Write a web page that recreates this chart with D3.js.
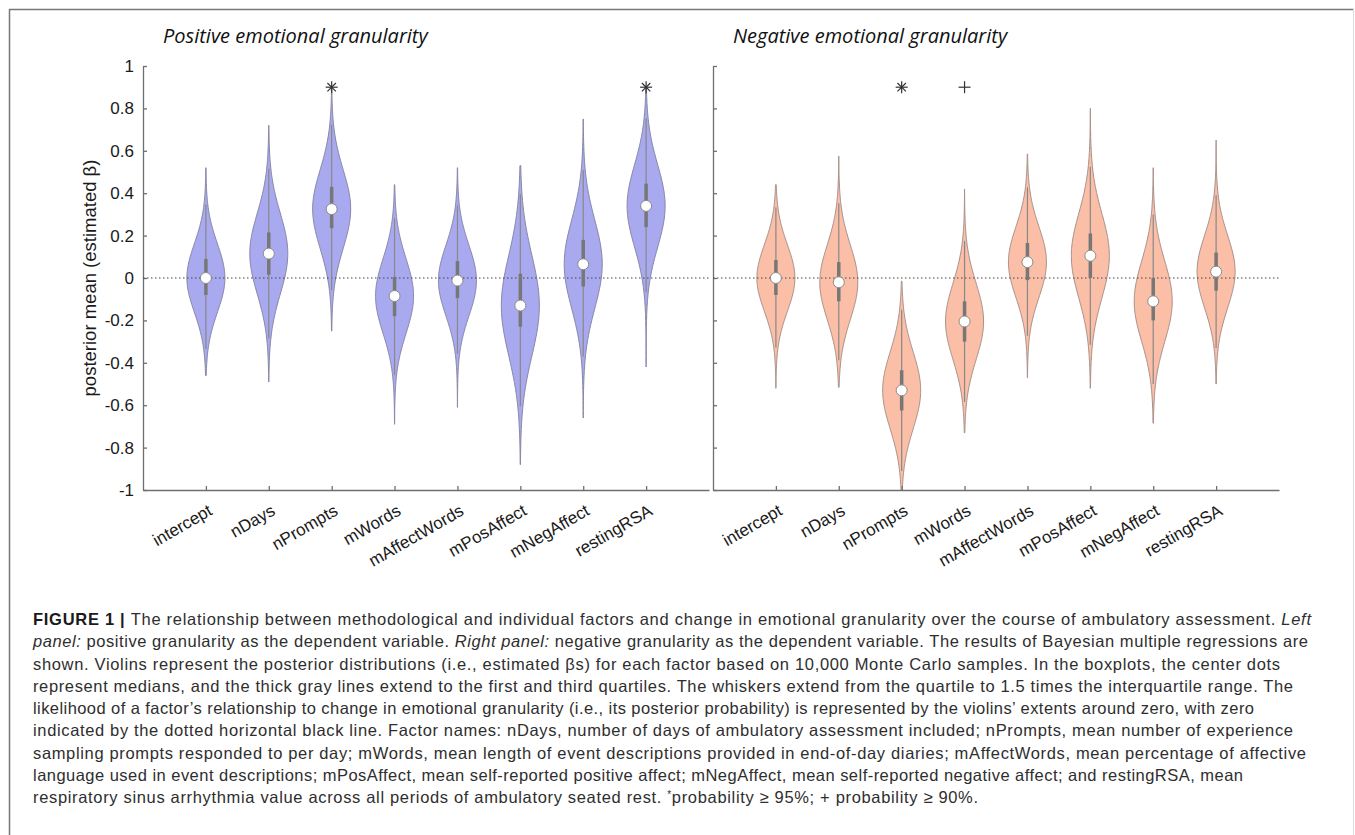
<!DOCTYPE html>
<html>
<head>
  <meta charset="utf-8">
  <title>Emotional granularity violins</title>
  <script src="https://d3js.org/d3.v7.min.js"></script>
  <style>
    body { margin: 0; background: #fff; }
    svg { display: block; }
    .axis path, .axis line { stroke: #6f6f6f; stroke-width: 1.3; }
    .axis text { font-family: "Liberation Sans", Arial, sans-serif; font-size: 17px; fill: #1a1a1a; }
    .title { font-family: "Open Sans", sans-serif; font-style: italic; font-size: 20px; fill: #111; }
    .ylabel { font-family: "Liberation Sans", Arial, sans-serif; font-size: 18.5px; fill: #1a1a1a; }
    .caption { font-family: "Liberation Sans", Arial, sans-serif; font-size: 16.5px; fill: #2e2e2e; }
  </style>
</head>
<body>

  <svg width="1355" height="835"></svg>

  <script>
    // Factor names (x categories)
    const factors = ["intercept", "nDays", "nPrompts", "mWords", "mAffectWords", "mPosAffect", "mNegAffect", "restingRSA"];
    const yTicks = [-1, -0.8, -0.6, -0.4, -0.2, 0, 0.2, 0.4, 0.6, 0.8, 1];

    // Positive emotional granularity: posterior summaries
    const posMedian = [0, 0.115, 0.325, -0.085, -0.012, -0.13, 0.065, 0.34];
    const posQ1 = [-0.08, 0.015, 0.235, -0.18, -0.095, -0.23, -0.04, 0.24];
    const posQ3 = [0.09, 0.215, 0.43, 0.005, 0.08, 0.02, 0.18, 0.445];
    const posMin = [-0.46, -0.49, -0.25, -0.69, -0.61, -0.88, -0.66, -0.42];
    const posMax = [0.52, 0.72, 0.9, 0.44, 0.52, 0.53, 0.75, 0.9];
    const posSig = ["", "", "*", "", "", "", "", "*"];

    // Negative emotional granularity
    const negMedian = [0, -0.02, -0.53, -0.205, 0.075, 0.105, -0.11, 0.03];
    const negQ1 = [-0.08, -0.11, -0.625, -0.30, -0.01, 0.0, -0.2, -0.06];
    const negQ3 = [0.085, 0.075, -0.435, -0.11, 0.165, 0.21, 0.0, 0.12];
    const negMin = [-0.52, -0.515, -1.0, -0.73, -0.47, -0.52, -0.685, -0.5];
    const negMax = [0.44, 0.575, -0.015, 0.42, 0.585, 0.80, 0.52, 0.65];
    const negSig = ["", "", "*", "+", "", "", "", ""];
    const sigLevel = 0.9;

    const captionLines = [
      [["b", "FIGURE 1 | "], ["", "The relationship between methodological and individual factors and change in emotional granularity over the course of ambulatory assessment. "], ["i", "Left"]],
      [["i", "panel:"], ["", " positive granularity as the dependent variable. "], ["i", "Right panel:"], ["", " negative granularity as the dependent variable. The results of Bayesian multiple regressions are"]],
      [["", "shown. Violins represent the posterior distributions (i.e., estimated βs) for each factor based on 10,000 Monte Carlo samples. In the boxplots, the center dots"]],
      [["", "represent medians, and the thick gray lines extend to the first and third quartiles. The whiskers extend from the quartile to 1.5 times the interquartile range. The"]],
      [["", "likelihood of a factor’s relationship to change in emotional granularity (i.e., its posterior probability) is represented by the violins’ extents around zero, with zero"]],
      [["", "indicated by the dotted horizontal black line. Factor names: nDays, number of days of ambulatory assessment included; nPrompts, mean number of experience"]],
      [["", "sampling prompts responded to per day; mWords, mean length of event descriptions provided in end-of-day diaries; mAffectWords, mean percentage of affective"]],
      [["", "language used in event descriptions; mPosAffect, mean self-reported positive affect; mNegAffect, mean self-reported negative affect; and restingRSA, mean"]],
      [["", "respiratory sinus arrhythmia value across all periods of ambulatory seated rest. "], ["s", "*"], ["", "probability ≥ 95%; + probability ≥ 90%."]]
    ];
    const captionWidths = [1278, 1275, 1247, 1260, 1221, 1260, 1273, 1210, 945];

    const svg = d3.select("svg");

    // outer frame
    svg.append("line").attr("x1", 9).attr("x2", 1354).attr("y1", 9.5).attr("y2", 9.5).attr("stroke", "#777").attr("stroke-width", 1.5);
    svg.append("line").attr("x1", 9.5).attr("x2", 9.5).attr("y1", 9).attr("y2", 835).attr("stroke", "#777").attr("stroke-width", 1.5);
    svg.append("line").attr("x1", 1353.5).attr("x2", 1353.5).attr("y1", 9).attr("y2", 835).attr("stroke", "#ddd");

    const y = d3.scaleLinear().domain([-1, 1]).range([490, 66]);

    const panels = [
      { title: "Positive emotional granularity", range: [143, 709], fill: "#a9a9ef", edge: "#8686a6",
        med: posMedian, q1: posQ1, q3: posQ3, lo: posMin, hi: posMax, sig: posSig, labels: true },
      { title: "Negative emotional granularity", range: [713, 1279], fill: "#fbbea6", edge: "#a8918a",
        med: negMedian, q1: negQ1, q3: negQ3, lo: negMin, hi: negMax, sig: negSig, labels: false }
    ];

    const halfMax = 19;
    // smooth bell outline; spread taken from the box width
    const dens = (v, m, s) => { const z = (v - m) / s; return Math.exp(-0.5 * z * z); };

    panels.forEach(p => {
      const x = d3.scaleLinear().domain([0, 9]).range(p.range);
      const g = svg.append("g");

      // violins
      factors.forEach((f, i) => {
        const cx = x(i + 1);
        const s = (p.q3[i] - p.q1[i]) / 1.05;
        const vs = d3.range(0, 121).map(k => p.lo[i] + (p.hi[i] - p.lo[i]) * k / 120);
        const pts = vs.map(v => ({ v: v, w: halfMax * dens(v, p.med[i], s) }));
        const area = d3.area()
          .y(d => y(d.v))
          .x0(d => cx - d.w)
          .x1(d => cx + d.w);
        g.append("path").attr("d", area(pts))
          .attr("fill", p.fill).attr("stroke", p.edge).attr("stroke-width", 1);
      });

      // y axis
      g.append("g").attr("class", "axis")
        .attr("transform", `translate(${p.range[0]},0)`)
        .call(d3.axisLeft(y).tickValues(yTicks).tickSize(-4).tickSizeOuter(0).tickPadding(9)
          .tickFormat(d => p.labels ? String(+d.toFixed(1)) : ""));

      // x axis
      const xa = g.append("g").attr("class", "axis")
        .attr("transform", `translate(0,${y(-1)})`)
        .call(d3.axisBottom(x).tickValues(d3.range(1, 9)).tickSize(-4).tickSizeOuter(0)
          .tickFormat(d => factors[d - 1]));
      xa.selectAll("text")
        .attr("x", 0).attr("y", 0).attr("dy", 0)
        .attr("text-anchor", "end")
        .attr("transform", "translate(7,24) rotate(-30)");

      // zero reference line
      g.append("line").attr("x1", p.range[0]).attr("x2", p.range[1])
        .attr("y1", y(0)).attr("y2", y(0))
        .attr("stroke", "#444").attr("stroke-width", 1.2).attr("stroke-dasharray", "1.5,2.5");

      // boxplots
      factors.forEach((f, i) => {
        const cx = x(i + 1);
        const iqr = p.q3[i] - p.q1[i];
        const wLo = Math.max(p.lo[i], p.q1[i] - 1.5 * iqr);
        const wHi = Math.min(p.hi[i], p.q3[i] + 1.5 * iqr);
        g.append("line").attr("x1", cx).attr("x2", cx).attr("y1", y(wLo)).attr("y2", y(wHi))
          .attr("stroke", "#888").attr("stroke-width", 1.2);
        g.append("line").attr("x1", cx).attr("x2", cx).attr("y1", y(p.q1[i])).attr("y2", y(p.q3[i]))
          .attr("stroke", "#777").attr("stroke-width", 3.5);
        g.append("circle").attr("cx", cx).attr("cy", y(p.med[i])).attr("r", 5.5)
          .attr("fill", "#fff").attr("stroke", "#8a8a8a").attr("stroke-width", 1);

        // significance markers
        const cy = y(sigLevel), r = 6;
        let segs = [];
        if (p.sig[i] === "*") {
          const d = r * Math.SQRT1_2;
          segs = [[-r, 0, r, 0], [0, -r, 0, r], [-d, -d, d, d], [-d, d, d, -d]];
        } else if (p.sig[i] === "+") {
          segs = [[-r, 0, r, 0], [0, -r, 0, r]];
        }
        segs.forEach(sg => {
          g.append("line").attr("x1", cx + sg[0]).attr("y1", cy + sg[1])
            .attr("x2", cx + sg[2]).attr("y2", cy + sg[3])
            .attr("stroke", "#333").attr("stroke-width", 1.2);
        });
      });

      // panel title
      g.append("text").attr("class", "title")
        .attr("x", p.range[0] + 20).attr("y", 43)
        .text(p.title);
    });

    // y axis label
    svg.append("text").attr("class", "ylabel")
      .attr("transform", `translate(96,${y(0)}) rotate(-90)`)
      .attr("text-anchor", "middle")
      .text("posterior mean (estimated β)");

    // figure caption
    captionLines.forEach((line, k) => {
      const t = svg.append("text").attr("class", "caption")
        .attr("x", 33).attr("y", 625 + k * 22.25)
        .attr("textLength", captionWidths[k]).attr("lengthAdjust", "spacing");
      line.forEach(([style, str]) => {
        const ts = t.append("tspan").text(str);
        if (style === "b") ts.attr("font-weight", "bold").attr("fill", "#1a1a1a");
        if (style === "i") ts.attr("font-style", "italic");
        if (style === "s") ts.attr("font-size", "10px").attr("dy", -5);
        if (k === 8 && style === "" && str.startsWith("probability")) ts.attr("dy", 5);
      });
    });
  </script>

</body>
</html>
